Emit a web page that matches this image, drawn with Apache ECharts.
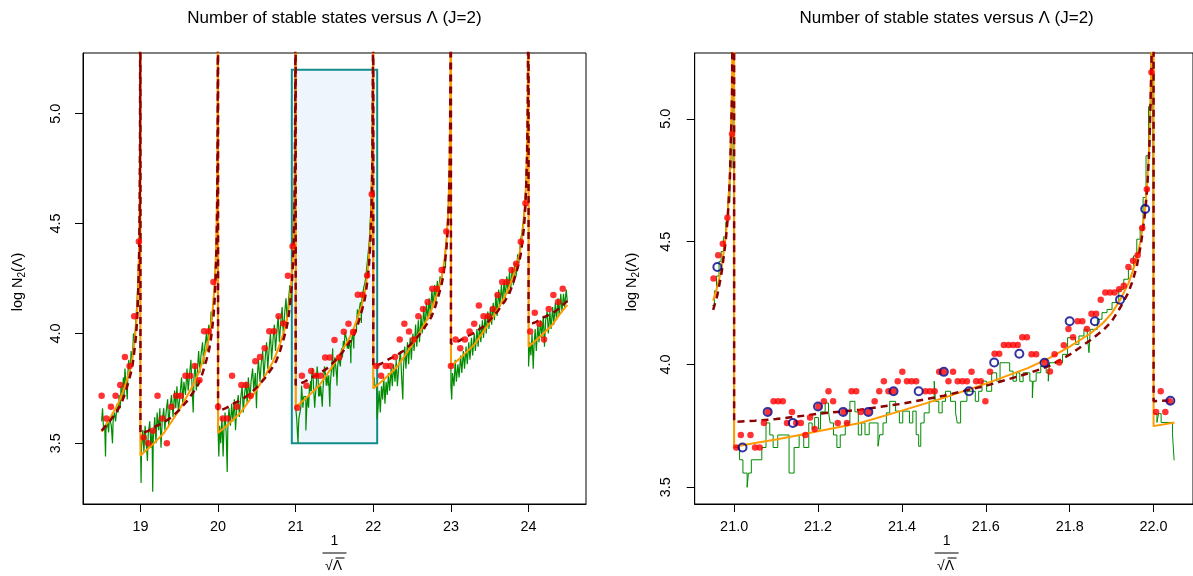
<!DOCTYPE html>
<html><head><meta charset="utf-8">
<script src="https://cdn.jsdelivr.net/npm/echarts@6/dist/echarts.min.js"></script>
<style>html,body{margin:0;padding:0;background:#fff}#c{width:1193px;height:576px}</style>
</head><body><div id="c"></div>
<script>
// ---------------- tick labels ----------------
const leftXTicks = [19, 20, 21, 22, 23, 24];
const rightXTicks = [21.0, 21.2, 21.4, 21.6, 21.8, 22.0];
const yTicks = [3.5, 4.0, 4.5, 5.0];
const titleText = 'Number of stable states versus \u039B (J=2)';
const zoomBox = [20.95, 22.05, 3.5, 5.2];

// ---------------- coarse points (red in left, blue rings in right) ----------------
const coarsePts = [[18.50,3.716],[18.56,3.613],[18.62,3.666],[18.68,3.716],[18.74,3.765],[18.80,3.893],[18.86,3.852],[18.92,4.078],[18.98,4.418],
[19.04,3.527],[19.10,3.500],[19.16,3.557],[19.22,3.716],[19.28,3.613],[19.34,3.500],[19.40,3.666],[19.46,3.716],[19.52,3.716],[19.58,3.807],[19.64,3.807],[19.70,3.852],[19.76,3.787],[19.82,4.010],[19.88,4.010],[19.94,4.234],
[20.00,3.666],[20.06,3.613],[20.12,3.613],[20.18,3.807],[20.24,3.666],[20.30,3.765],[20.36,3.765],[20.42,3.716],[20.48,3.873],[20.54,3.893],[20.60,3.933],[20.66,4.010],[20.72,4.010],[20.78,4.078],[20.84,4.045],[20.90,4.263],[20.96,4.397],
[21.02,3.662],[21.08,3.807],[21.14,3.762],[21.20,3.829],[21.26,3.807],[21.32,3.807],[21.38,3.891],[21.44,3.891],[21.50,3.970],[21.56,3.891],[21.62,4.008],[21.68,4.044],[21.74,4.007],[21.80,4.176],[21.86,4.176],[21.92,4.264],[21.98,4.633],
[22.04,3.852],[22.10,3.807],[22.16,3.852],[22.22,3.852],[22.28,3.893],[22.34,3.973],[22.40,4.044],[22.46,4.009],[22.52,3.973],[22.58,4.078],[22.64,4.111],[22.70,4.143],[22.76,4.203],[22.82,4.203],[22.88,4.289],[22.94,4.464],
[23.00,3.852],[23.06,3.973],[23.12,3.933],[23.18,3.973],[23.24,4.009],[23.30,4.044],[23.36,4.127],[23.42,4.078],[23.48,4.078],[23.54,4.111],[23.60,4.175],[23.66,4.234],[23.72,4.234],[23.78,4.289],[23.84,4.317],[23.90,4.417],[23.96,4.592],
[24.02,4.009],[24.08,4.094],[24.14,4.044],[24.20,3.973],[24.26,4.111],[24.32,4.175],[24.38,4.143],[24.44,4.203]];

// ---------------- fine points (red, right panel) ----------------
const finePts = [[20.951,4.35],[20.962,4.445],[20.973,4.491],[20.984,4.597],[20.995,4.938],[21.005,3.662],[21.016,3.713],[21.039,3.713],[21.05,3.662],[21.061,3.662],[21.071,3.762],[21.081,3.807],[21.094,3.85],[21.105,3.85],[21.116,3.85],[21.126,3.762],[21.138,3.807],[21.148,3.762],[21.159,3.762],[21.17,3.713],[21.181,3.784],[21.192,3.737],[21.201,3.829],[21.214,3.85],[21.225,3.891],[21.236,3.85],[21.247,3.762],[21.261,3.807],[21.269,3.762],[21.28,3.891],[21.291,3.891],[21.302,3.807],[21.32,3.807],[21.335,3.85],[21.346,3.891],[21.357,3.932],[21.368,3.891],[21.38,3.891],[21.39,3.932],[21.401,3.97],[21.412,3.932],[21.423,3.932],[21.434,3.932],[21.456,3.891],[21.467,3.891],[21.478,3.891],[21.489,3.97],[21.5,3.97],[21.511,3.932],[21.522,3.97],[21.533,3.932],[21.544,3.932],[21.555,3.932],[21.566,3.97],[21.577,3.932],[21.588,3.932],[21.599,3.85],[21.61,3.97],[21.621,4.044],[21.632,4.044],[21.643,4.079],[21.654,4.079],[21.665,4.079],[21.676,4.079],[21.687,4.111],[21.698,4.111],[21.709,4.042],[21.72,4.042],[21.741,4.007],[21.753,3.971],[21.764,4.042],[21.775,4.008],[21.786,4.078],[21.797,4.144],[21.808,4.111],[21.819,4.176],[21.83,4.176],[21.841,4.144],[21.852,4.207],[21.863,4.207],[21.874,4.264],[21.885,4.293],[21.896,4.293],[21.907,4.293],[21.918,4.306],[21.929,4.32],[21.94,4.397],[21.951,4.422],[21.962,4.445],[21.973,4.556],[21.984,4.713],[21.995,5.19],[22.006,3.807],[22.017,3.891],[22.028,3.807],[22.039,3.85]];

// ---------------- green step data ----------------
const greenSeg18 = [[18.500,3.60],[18.512,3.66],[18.525,3.56],[18.540,3.58],[18.550,3.44],[18.556,3.56],[18.575,3.60],[18.590,3.55],[18.600,3.62],[18.625,3.58],[18.640,3.50],[18.648,3.60],[18.665,3.64],[18.680,3.60],[18.700,3.68],[18.712,3.64],[18.725,3.72],[18.740,3.66],[18.750,3.76],[18.765,3.70],[18.780,3.80],[18.790,3.72],[18.800,3.84],[18.815,3.78],[18.830,3.70],[18.838,3.82],[18.850,3.88],[18.865,3.80],[18.880,3.92],[18.895,3.86],[18.910,4.00],[18.925,3.96],[18.940,4.06],[18.955,4.14],[18.970,4.26],[18.982,4.40],[18.990,4.60],[18.997,5.00],[18.999,6.0]];
const greenSeg19 = [[19.000,3.52],[19.008,3.32],[19.014,3.48],[19.030,3.56],[19.045,3.46],[19.060,3.58],[19.075,3.50],[19.090,3.42],[19.100,3.54],[19.120,3.60],[19.135,3.48],[19.150,3.56],[19.158,3.28],[19.165,3.52],[19.185,3.62],[19.200,3.50],[19.215,3.64],[19.235,3.56],[19.250,3.66],[19.265,3.48],[19.280,3.60],[19.300,3.66],[19.315,3.56],[19.330,3.64],[19.350,3.70],[19.365,3.58],[19.380,3.66],[19.400,3.72],[19.420,3.62],[19.440,3.74],[19.455,3.66],[19.470,3.76],[19.490,3.64],[19.510,3.72],[19.530,3.80],[19.545,3.68],[19.560,3.78],[19.580,3.72],[19.600,3.84],[19.615,3.74],[19.630,3.80],[19.650,3.88],[19.665,3.76],[19.680,3.64],[19.690,3.80],[19.705,3.86],[19.720,3.74],[19.735,3.84],[19.750,3.92],[19.765,3.82],[19.780,3.90],[19.800,3.96],[19.815,3.86],[19.830,3.94],[19.850,4.00],[19.865,3.92],[19.880,4.04],[19.895,3.98],[19.910,4.10],[19.925,4.06],[19.940,4.16],[19.955,4.22],[19.970,4.34],[19.982,4.48],[19.990,4.66],[19.997,5.0],[19.999,6.0]];
const greenSeg20 = [[20.000,3.56],[20.010,3.44],[20.020,3.58],[20.035,3.50],[20.050,3.62],[20.065,3.44],[20.075,3.56],[20.090,3.64],[20.105,3.54],[20.118,3.37],[20.125,3.56],[20.140,3.66],[20.160,3.58],[20.175,3.68],[20.190,3.60],[20.210,3.70],[20.225,3.56],[20.240,3.66],[20.260,3.72],[20.275,3.62],[20.290,3.70],[20.310,3.76],[20.325,3.64],[20.340,3.72],[20.360,3.78],[20.375,3.68],[20.390,3.80],[20.410,3.70],[20.425,3.78],[20.445,3.84],[20.460,3.74],[20.480,3.82],[20.495,3.66],[20.505,3.80],[20.520,3.88],[20.540,3.78],[20.555,3.86],[20.575,3.92],[20.590,3.80],[20.610,3.90],[20.625,3.96],[20.640,3.84],[20.660,3.94],[20.675,4.00],[20.690,3.88],[20.710,3.98],[20.725,4.04],[20.740,3.92],[20.760,4.02],[20.775,4.08],[20.790,3.96],[20.810,4.06],[20.825,4.12],[20.840,4.00],[20.860,4.10],[20.875,4.16],[20.890,4.06],[20.910,4.16],[20.925,4.22],[20.940,4.14],
[20.948,4.24],[20.953,4.30],[20.958,4.36],[20.964,4.42],[20.969,4.46],[20.975,4.52],[20.980,4.58],[20.985,4.66],[20.990,4.80],[20.995,5.0],[20.999,6.0]];
const greenSeg21 = [[21.000,3.662],[21.013,3.612],[21.021,3.558],[21.031,3.50],[21.034,3.558],[21.041,3.612],[21.066,3.662],[21.076,3.762],[21.085,3.713],[21.093,3.662],[21.104,3.713],[21.131,3.558],[21.143,3.662],[21.155,3.713],[21.166,3.662],[21.178,3.762],[21.186,3.737],[21.192,3.784],[21.201,3.737],[21.206,3.807],[21.217,3.843],[21.225,3.807],[21.229,3.762],[21.237,3.713],[21.245,3.662],[21.253,3.713],[21.265,3.762],[21.276,3.850],[21.288,3.807],[21.296,3.713],
[21.304,3.762],[21.312,3.714],[21.322,3.762],[21.343,3.667],[21.347,3.714],[21.355,3.762],[21.363,3.803],[21.371,3.850],[21.385,3.81],[21.394,3.762],[21.402,3.81],[21.418,3.762],[21.426,3.81],[21.434,3.714],[21.440,3.667],[21.445,3.762],[21.453,3.803],[21.465,3.850],[21.477,3.932],[21.480,3.850],[21.488,3.803],[21.496,3.850],[21.504,3.891],[21.516,3.850],[21.528,3.803],[21.532,3.762],[21.540,3.850],[21.555,3.891],[21.575,3.850],[21.583,3.891],[21.591,3.932],[21.602,3.891],[21.614,3.966],[21.626,3.932],[21.634,4.007],[21.657,3.973],[21.665,3.932],[21.673,3.966],
[21.681,3.93],[21.689,3.966],[21.705,3.932],[21.711,3.864],[21.713,3.932],[21.720,3.966],[21.731,3.993],[21.744,3.966],[21.749,3.932],[21.752,4.007],[21.783,4.041],[21.795,4.109],[21.814,4.082],[21.822,4.116],[21.834,4.143],[21.842,4.116],[21.846,4.048],[21.849,4.143],[21.866,4.184],[21.877,4.211],[21.889,4.224],[21.901,4.252],[21.917,4.306],[21.929,4.347],[21.940,4.388],[21.952,4.442],[21.960,4.51],[21.968,4.56],[21.975,4.68],[21.982,4.85],[21.988,5.05],[21.994,5.4],[21.997,6.0]];
const greenSeg22 = [[22.000,3.80],[22.008,3.764],[22.012,3.80],[22.018,3.764],[22.045,3.72],[22.049,3.61],
[22.060,3.66],[22.075,3.74],[22.090,3.64],[22.105,3.76],[22.120,3.70],[22.135,3.80],[22.150,3.68],[22.165,3.78],[22.180,3.72],[22.195,3.82],[22.210,3.74],[22.230,3.84],[22.245,3.76],[22.260,3.86],[22.280,3.78],[22.295,3.88],[22.310,3.76],[22.330,3.86],[22.350,3.92],[22.365,3.80],[22.380,3.70],[22.388,3.84],[22.405,3.94],[22.420,3.84],[22.440,3.96],[22.455,3.86],[22.475,3.98],[22.490,3.88],[22.510,4.00],[22.525,3.92],[22.545,4.04],[22.560,3.94],[22.580,4.06],[22.595,3.96],[22.615,4.08],[22.630,4.00],[22.650,4.12],[22.665,4.02],[22.685,4.14],[22.700,4.06],[22.720,4.16],[22.735,4.08],[22.755,4.20],[22.770,4.12],[22.790,4.22],[22.805,4.14],[22.825,4.24],[22.840,4.18],[22.860,4.26],[22.875,4.22],[22.895,4.30],[22.910,4.30],[22.930,4.38],[22.950,4.46],[22.965,4.56],[22.980,4.70],[22.990,4.88],[22.997,5.2],[22.999,6.0]];
const greenSeg23 = [[23.000,3.76],[23.010,3.70],[23.020,3.82],[23.040,3.76],[23.055,3.88],[23.070,3.78],[23.090,3.86],[23.105,3.80],[23.125,3.90],[23.140,3.82],[23.160,3.92],[23.175,3.84],[23.195,3.94],[23.210,3.86],[23.230,3.96],[23.245,3.88],[23.265,3.98],[23.280,3.90],[23.300,4.00],[23.315,3.92],[23.335,4.02],[23.350,3.94],[23.370,4.04],[23.385,3.96],[23.405,4.06],[23.420,3.98],[23.440,4.08],[23.455,4.00],[23.475,4.10],[23.490,4.02],[23.510,4.12],[23.525,4.04],[23.545,4.14],[23.560,4.06],[23.580,4.18],[23.595,4.08],[23.615,4.20],[23.630,4.12],[23.650,4.22],[23.665,4.14],[23.685,4.24],[23.700,4.16],[23.720,4.26],[23.735,4.18],[23.755,4.28],[23.770,4.20],[23.790,4.30],[23.805,4.22],[23.825,4.32],[23.840,4.26],[23.860,4.36],[23.875,4.32],[23.895,4.42],[23.915,4.46],[23.935,4.52],[23.955,4.60],[23.970,4.72],[23.982,4.86],[23.990,5.0],[23.997,5.3],[23.999,6.0]];
const greenSeg24 = [[24.000,3.85],[24.015,3.96],[24.030,3.90],[24.045,4.00],[24.060,3.84],[24.070,3.94],[24.085,4.02],[24.100,3.92],[24.120,4.04],[24.135,3.96],[24.155,4.06],[24.170,3.98],[24.190,4.08],[24.205,3.94],[24.220,4.06],[24.240,4.10],[24.255,4.00],[24.275,4.10],[24.290,4.02],[24.310,4.12],[24.325,4.04],[24.345,4.14],[24.360,4.06],[24.380,4.16],[24.395,4.08],[24.415,4.18],[24.430,4.10],[24.450,4.18],[24.465,4.12],[24.485,4.20],[24.500,4.14]];

// ---------------- orange fitted curve ----------------
const orangeSeg18 = [[18.5,3.553],[18.6,3.61],[18.7,3.672],[18.75,3.712],[18.8,3.76],[18.85,3.815],[18.88,3.857],[18.9,3.895],[18.92,3.95],[18.94,4.018],[18.95,4.066],[18.96,4.122],[18.97,4.198],[18.98,4.327],[18.985,4.428],[18.99,4.587],[18.995,4.94],[19.0,6.5]];
const orangeSeg19 = [[19.0,3.444],[19.05,3.46],[19.1,3.476],[19.15,3.492],[19.2,3.51],[19.3,3.546],[19.4,3.598],[19.5,3.653],[19.6,3.714],[19.7,3.78],[19.75,3.822],[19.8,3.872],[19.85,3.929],[19.88,3.974],[19.9,4.014],[19.92,4.07],[19.94,4.142],[19.95,4.193],[19.96,4.253],[19.97,4.331],[19.98,4.468],[19.985,4.573],[19.99,4.74],[19.995,5.11],[20.0,6.5]];
const orangeSeg20 = [[20.0,3.547],[20.05,3.562],[20.1,3.577],[20.15,3.593],[20.2,3.61],[20.3,3.644],[20.4,3.694],[20.5,3.746],[20.6,3.804],[20.7,3.867],[20.75,3.907],[20.8,3.955],[20.85,4.009],[20.88,4.052],[20.9,4.09],[20.92,4.144],[20.94,4.212],[20.95,4.26],[20.96,4.317],[20.97,4.392],[20.98,4.522],[20.985,4.622],[20.99,4.782],[20.995,5.132],[21.0,6.5]];
const orangeSeg21 = [[21.0,3.665],[21.05,3.68],[21.1,3.695],[21.15,3.711],[21.2,3.728],[21.3,3.762],[21.4,3.812],[21.5,3.864],[21.6,3.922],[21.7,3.985],[21.75,4.025],[21.8,4.073],[21.85,4.127],[21.88,4.17],[21.9,4.208],[21.92,4.262],[21.94,4.33],[21.95,4.378],[21.96,4.435],[21.97,4.51],[21.98,4.64],[21.985,4.74],[21.99,4.9],[21.995,5.25],[22.0,6.5]];
const orangeSeg22 = [[22.0,3.749],[22.05,3.764],[22.1,3.779],[22.15,3.795],[22.2,3.812],[22.3,3.846],[22.4,3.896],[22.5,3.948],[22.6,4.006],[22.7,4.069],[22.75,4.109],[22.8,4.157],[22.85,4.211],[22.88,4.254],[22.9,4.292],[22.92,4.346],[22.94,4.414],[22.95,4.462],[22.96,4.519],[22.97,4.594],[22.98,4.724],[22.985,4.824],[22.99,4.984],[22.995,5.334],[23.0,6.5]];
const orangeSeg23 = [[23.0,3.852],[23.05,3.867],[23.1,3.882],[23.15,3.898],[23.2,3.915],[23.3,3.949],[23.4,3.999],[23.5,4.051],[23.6,4.109],[23.7,4.172],[23.75,4.212],[23.8,4.26],[23.85,4.314],[23.88,4.357],[23.9,4.395],[23.92,4.449],[23.94,4.517],[23.95,4.565],[23.96,4.622],[23.97,4.697],[23.98,4.827],[23.985,4.927],[23.99,5.087],[23.995,5.437],[24.0,6.5]];
const orangeSeg24 = [[24.0,3.94],[24.05,3.955],[24.1,3.97],[24.15,3.986],[24.2,4.003],[24.3,4.037],[24.4,4.087],[24.5,4.13]];

// ---------------- dark red dashed curve ----------------
const dashSeg18 = [[18.5,3.558],[18.6,3.598],[18.7,3.648],[18.75,3.678],[18.8,3.725],[18.85,3.785],[18.88,3.825],[18.9,3.86],[18.92,3.915],[18.94,3.978],[18.95,4.025],[18.96,4.085],[18.97,4.175],[18.98,4.305],[18.985,4.405],[18.99,4.565],[18.995,4.905],[19.0,6.5]];
const dashSeg19 = [[19.0,3.545],[19.05,3.55],[19.1,3.557],[19.15,3.567],[19.2,3.578],[19.3,3.595],[19.4,3.619],[19.5,3.652],[19.6,3.692],[19.7,3.742],[19.75,3.772],[19.8,3.819],[19.85,3.879],[19.88,3.919],[19.9,3.954],[19.92,4.009],[19.94,4.072],[19.95,4.119],[19.96,4.179],[19.97,4.269],[19.98,4.399],[19.985,4.499],[19.99,4.659],[19.995,4.999],[20.0,6.5]];
const dashSeg20 = [[20.0,3.648],[20.05,3.653],[20.1,3.66],[20.15,3.67],[20.2,3.681],[20.3,3.698],[20.4,3.722],[20.5,3.755],[20.6,3.795],[20.7,3.845],[20.75,3.875],[20.8,3.922],[20.85,3.982],[20.88,4.022],[20.9,4.057],[20.92,4.112],[20.94,4.175],[20.95,4.222],[20.96,4.282],[20.97,4.372],[20.98,4.502],[20.985,4.602],[20.99,4.762],[20.995,5.102],[21.0,6.5]];
const dashSeg21 = [[21.0,3.766],[21.05,3.771],[21.1,3.778],[21.15,3.788],[21.2,3.799],[21.3,3.816],[21.4,3.84],[21.5,3.873],[21.6,3.913],[21.7,3.963],[21.75,3.993],[21.8,4.04],[21.85,4.1],[21.88,4.14],[21.9,4.175],[21.92,4.23],[21.94,4.293],[21.95,4.34],[21.96,4.4],[21.97,4.49],[21.98,4.62],[21.985,4.72],[21.99,4.88],[21.995,5.22],[22.0,6.5]];
const dashSeg22 = [[22.0,3.85],[22.05,3.855],[22.1,3.862],[22.15,3.872],[22.2,3.883],[22.3,3.9],[22.4,3.924],[22.5,3.957],[22.6,3.997],[22.7,4.047],[22.75,4.077],[22.8,4.124],[22.85,4.184],[22.88,4.224],[22.9,4.259],[22.92,4.314],[22.94,4.377],[22.95,4.424],[22.96,4.484],[22.97,4.574],[22.98,4.704],[22.985,4.804],[22.99,4.964],[22.995,5.304],[23.0,6.5]];
const dashSeg23 = [[23.0,3.953],[23.05,3.958],[23.1,3.965],[23.15,3.975],[23.2,3.986],[23.3,4.003],[23.4,4.027],[23.5,4.06],[23.6,4.1],[23.7,4.15],[23.75,4.18],[23.8,4.227],[23.85,4.287],[23.88,4.327],[23.9,4.362],[23.92,4.417],[23.94,4.48],[23.95,4.527],[23.96,4.587],[23.97,4.677],[23.98,4.807],[23.985,4.907],[23.99,5.067],[23.995,5.407],[24.0,6.5]];
const dashSeg24 = [[24.0,4.041],[24.05,4.046],[24.1,4.053],[24.15,4.063],[24.2,4.074],[24.3,4.091],[24.4,4.115],[24.5,4.148]];

// ---------------- assemble ----------------
const green = [].concat(greenSeg18, greenSeg19, greenSeg20, greenSeg21, greenSeg22, greenSeg23, greenSeg24);
const orange = [].concat(orangeSeg18, orangeSeg19, orangeSeg20, orangeSeg21, orangeSeg22, orangeSeg23, orangeSeg24);
const dashed = [].concat(dashSeg18, dashSeg19, dashSeg20, dashSeg21, dashSeg22, dashSeg23, dashSeg24);
const inZoom = p => p[0] >= zoomBox[0] - 0.0025 && p[0] <= zoomBox[1] + 1e-9;
const greenR = green.filter(inZoom), orangeR = orange.filter(inZoom), dashedR = dashed.filter(inZoom);
const coarseR = coarsePts.filter(p => p[0] >= 20.85 && p[0] <= 22.1);

const FONT = '"Liberation Sans", Arial, Helvetica, sans-serif';
const C_GREEN = '#008B00', C_ORANGE = '#FF9A00', C_DASH = '#8B0000', C_RED = '#FF0000', C_BLUE = '#00008B';

function mkX(idx, min, max, ticks, dec) {
  return {gridIndex: idx, type: 'value', min: min, max: max,
    axisLine: {show: true, onZero: false, lineStyle: {color: '#000', width: 1}},
    axisTick: {show: true, customValues: ticks, length: 8, lineStyle: {color: '#000', width: 1}},
    axisLabel: {show: true, customValues: ticks, margin: 16, color: '#000', fontSize: 14.4, fontFamily: FONT,
      formatter: v => Number(v).toFixed(dec)},
    splitLine: {show: false}};
}
function mkY(idx, min, max, margin) {
  return {gridIndex: idx, type: 'value', min: min, max: max,
    axisLine: {show: true, onZero: false, lineStyle: {color: '#000', width: 1}},
    axisTick: {show: true, customValues: yTicks, length: 8, lineStyle: {color: '#000', width: 1}},
    axisLabel: {show: true, customValues: yTicks, rotate: 90, margin: margin, color: '#000', fontSize: 14.4, fontFamily: FONT,
      formatter: v => Number(v).toFixed(1)},
    splitLine: {show: false}};
}
function lineS(ax, data, color, width, type, z, step) {
  return {type: 'line', xAxisIndex: ax, yAxisIndex: ax, data: data, step: step || false, symbol: 'none', showSymbol: false,
    lineStyle: {color: color, width: width, type: type || 'solid'}, z: z, animation: false, silent: true, clip: true};
}
function frac(cx) {
  return [
    {type: 'text', x: cx, y: 541, style: {text: '1', font: '14px ' + FONT, fill: '#000', align: 'center', verticalAlign: 'middle', textAlign: 'center', textVerticalAlign: 'middle'}},
    {type: 'line', shape: {x1: cx - 12, y1: 553, x2: cx + 12, y2: 553}, style: {stroke: '#000', lineWidth: 1}},
    {type: 'text', x: cx - 1, y: 566, style: {text: '\u221A\u039B', font: '14px ' + FONT, fill: '#000', align: 'center', verticalAlign: 'middle', textAlign: 'center', textVerticalAlign: 'middle'}},
    {type: 'line', shape: {x1: cx + 1, y1: 558, x2: cx + 10, y2: 558}, style: {stroke: '#000', lineWidth: 1}}
  ];
}
function yname(x, y) {
  return {type: 'text', x: x, y: y, rotation: Math.PI / 2,
    style: {text: '{a|log N}{s|2}{a|(\u039B)}', fill: '#000', align: 'center', verticalAlign: 'middle', textAlign: 'center', textVerticalAlign: 'middle',
      rich: {a: {fontSize: 14.4, fontFamily: FONT, lineHeight: 18, verticalAlign: 'middle', fill: '#000'},
             s: {fontSize: 10, fontFamily: FONT, lineHeight: 10, verticalAlign: 'bottom', fill: '#000'}}}};
}
function title(cx) {
  return {type: 'text', x: cx, y: 18, style: {text: titleText, font: '17px ' + FONT, fill: '#000', align: 'center', verticalAlign: 'middle', textAlign: 'center', textVerticalAlign: 'middle'}};
}

const chart = echarts.init(document.getElementById('c'), null, {renderer: 'canvas'});
chart.setOption({
  animation: false,
  backgroundColor: '#fff',
  grid: [
    {left: 83, right: 607, top: 53, bottom: 72, show: true, borderColor: '#000', borderWidth: 1, backgroundColor: 'transparent'},
    {left: 694.7, right: -5.6, top: 53, bottom: 72, show: true, borderColor: '#000', borderWidth: 1, backgroundColor: 'transparent'}
  ],
  xAxis: [mkX(0, 18.26, 24.74, leftXTicks, 0), mkX(1, 20.906, 22.094, rightXTicks, 1)],
  yAxis: [mkY(0, 3.224, 5.276, 20), mkY(1, 3.432, 5.268, 22)],
  series: [
    {type: 'custom', xAxisIndex: 0, yAxisIndex: 0, data: [zoomBox], z: 1, silent: true, animation: false, clip: true,
      renderItem: (params, api) => {
        const p0 = api.coord([api.value(0), api.value(3)]);
        const p1 = api.coord([api.value(1), api.value(2)]);
        return {type: 'rect', shape: {x: p0[0], y: p0[1], width: p1[0] - p0[0], height: p1[1] - p0[1]},
          style: {fill: '#EEF5FC', stroke: '#118C8C', lineWidth: 2}};
      }},
    lineS(0, green, C_GREEN, 1.2, 'solid', 2, 'end'),
    lineS(0, orange, C_ORANGE, 2, 'solid', 3),
    lineS(0, dashed, C_DASH, 2.5, [7, 5], 4),
    {type: 'scatter', xAxisIndex: 0, yAxisIndex: 0, data: coarsePts, symbol: 'circle', symbolSize: 6.5,
      itemStyle: {color: C_RED}, z: 5, silent: true, animation: false},
    lineS(1, greenR, C_GREEN, 1, 'solid', 2, 'end'),
    lineS(1, orangeR, C_ORANGE, 2, 'solid', 3),
    lineS(1, dashedR, C_DASH, 2.5, [7, 5], 4),
    {type: 'scatter', xAxisIndex: 1, yAxisIndex: 1, data: finePts, symbol: 'circle', symbolSize: 6.5,
      itemStyle: {color: C_RED}, z: 5, silent: true, animation: false},
    {type: 'scatter', xAxisIndex: 1, yAxisIndex: 1, data: coarseR, symbol: 'circle', symbolSize: 8,
      itemStyle: {color: 'rgba(0,0,0,0)', borderColor: C_BLUE, borderWidth: 2}, z: 6, silent: true, animation: false}
  ],
  graphic: {elements: [title(334.5), title(946.6), yname(18, 282), yname(632, 282)].concat(frac(334.5), frac(946.6))}
});
</script></body></html>
